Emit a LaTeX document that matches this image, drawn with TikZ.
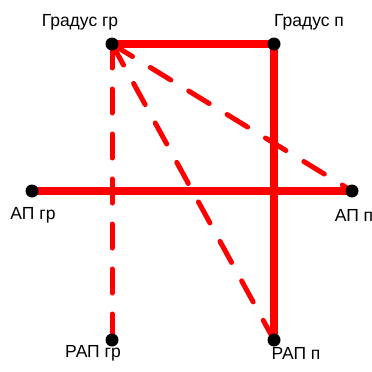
\documentclass[tikz,border=0pt]{standalone}
\usepackage{fontspec}
\setmainfont{Liberation Sans}
\begin{document}
\begin{tikzpicture}[x=1pt,y=-1pt,
  dot/.style={circle,fill=black,inner sep=0pt,minimum size=13pt},
  solidline/.style={red,line width=8pt},
  dashline/.style={red,line width=5pt,line cap=round,dash pattern=on 24pt off 21pt},
  lbl/.style={font=\fontsize{17.5}{20}\selectfont,inner sep=0pt}]
\useasboundingbox (0,0) rectangle (372,372);
\coordinate (gg) at (112,44);
\coordinate (gp) at (274,44);
\coordinate (ag) at (32,191);
\coordinate (ap) at (352,191);
\coordinate (rg) at (112,340);
\coordinate (rp) at (274,340);
\draw[solidline] (gg) -- (gp) -- (rp);
\draw[solidline] (ag) -- (ap);
\draw[dashline] (gg) -- (ap);
\draw[dashline] (gg) -- (rg);
\draw[dashline] (gg) -- (rp);
\foreach \n in {gg,gp,ag,ap,rg,rp} \node[dot] (d\n) at (\n) {};
\node[lbl] (tgg) at (80,22) {Градус гр};
\node[lbl] (tgp) at (309,22) {Градус п};
\node[lbl] (tag) at (33,215) {АП гр};
\node[lbl] (tap) at (354,215) {АП п};
\node[lbl] (trg) at (93,353) {РАП гр};
\node[lbl] (trp) at (296,353) {РАП п};
\end{tikzpicture}
\end{document}
